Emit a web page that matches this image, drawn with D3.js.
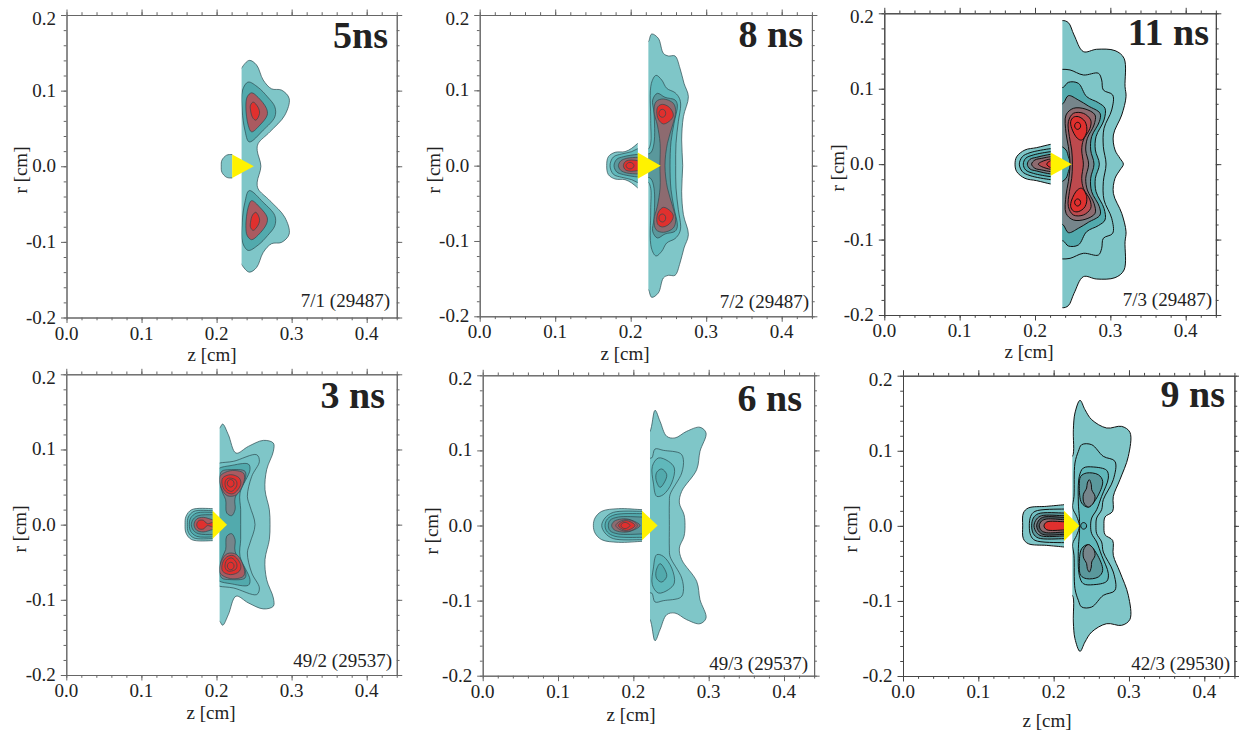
<!DOCTYPE html>
<html>
<head>
<meta charset="utf-8">
<script src="https://cdn.jsdelivr.net/npm/d3@7"></script>
<style>
  body { margin: 0; background: #fff; }
  text { font-family: "Liberation Serif", serif; fill: #222; }
</style>
</head>
<body>
<script>
// tick values, shared by all six panels
const zMajor = [0, 0.1, 0.2, 0.3, 0.4];
const zLabels = ["0.0", "0.1", "0.2", "0.3", "0.4"];
const rMajor = [-0.2, -0.1, 0, 0.1, 0.2];
const rLabels = ["-0.2", "-0.1", "0.0", "0.1", "0.2"];
const zMinor = d3.range(0, 0.441, 0.02);
const rMinor = d3.range(-0.2, 0.201, 0.02);

const titles = ["5ns", "8 ns", "11 ns", "3 ns", "6 ns", "9 ns"];
const notes = ["7/1 (29487)", "7/2 (29487)", "7/3 (29487)", "49/2 (29537)", "49/3 (29537)", "42/3 (29530)"];

// [left wall z, right wall z, triangle half height r, triangle tip z]
const geometry = [
  [0.2208, 0.2333, 0.0155, 0.2497],
  [0.2093, 0.2234, 0.0173, 0.2397],
  [0.2208, 0.2363, 0.0153, 0.2487],
  [0.1949, 0.2042, 0.0186, 0.2140],
  [0.2115, 0.2221, 0.0198, 0.2323],
  [0.2137, 0.2248, 0.0202, 0.2341]
];

// contours: [colour class, kind, [z, r] points]
// kind h = upper half that gets mirrored over r=0, t = off axis loop with a mirrored twin
const right5 = [
  [0, "h", [[.228,0],[.228,.12],[.2333,.13],[.2435,.14],[.2532,.134],[.2621,.114],[.2732,.1024],[.2865,.1007],[.2967,.0896],[.2909,.0675],[.271,.0455],[.2554,.03],[.2541,.021],[.259,0]]],
  [2, "t", [[.2421,.1113],[.2554,.1042],[.2678,.0918],[.2776,.0786],[.2776,.0653],[.2621,.0477],[.2435,.0322],[.2377,.0477],[.2341,.0742],[.2346,.1007]]],
  [6, "t", [[.2466,.0971],[.2554,.091],[.2665,.0764],[.2674,.0675],[.2576,.0543],[.2466,.0455],[.2421,.0543],[.239,.0786],[.2408,.0918]]],
  [8, "t", [[.2488,.0848],[.2554,.0777],[.2572,.0698],[.2523,.0609],[.2479,.0645],[.2452,.0742],[.2452,.0808]]]
];
const left5 = [
  [0, "h", [[.2062,0],[.2071,.008],[.2133,.0146],[.2208,.0155],[.226,.015],[.226,0]]]
];

const right8 = [
  [0, "h", [[.218,0],[.218,.16],[.2234,.1646],[.2278,.1748],[.2366,.169],[.2433,.1491],[.2499,.1456],[.2587,.1456],[.2653,.1292],[.2706,.1093],[.2764,.0916],[.2698,.065],[.2675,.0341],[.2689,0]]],
  [1, "h", [[.2596,0],[.26,.0296],[.2631,.0584],[.2662,.0805],[.2645,.0894],[.2587,.0969],[.2477,.1027],[.2411,.1137],[.2336,.1199],[.2274,.1093],[.2265,.06],[.2265,.03],[.2234,.022],[.219,.02],[.219,0]]],
  [3, "h", [[.2521,0],[.2534,.0319],[.2574,.0562],[.2618,.0805],[.2587,.0872],[.2455,.0907],[.2353,.096],[.2291,.0872],[.2309,.07],[.2309,.03],[.2265,.017],[.219,.014],[.219,0]]],
  [5, "h", [[.2454,0],[.2486,.0296],[.2556,.054],[.2596,.0717],[.2565,.0827],[.2433,.0885],[.2336,.085],[.2309,.0717],[.2353,.054],[.2389,.0296],[.2387,0]]],
  [8, "t", [[.2419,.0814],[.2512,.0774],[.2565,.0673],[.253,.0606],[.2433,.0553],[.2367,.0615],[.2345,.0717],[.2362,.0783]]],
  [8, "t", [[.2419,.0748],[.2451,.0733],[.2464,.0695],[.2451,.0657],[.2419,.0642],[.2387,.0657],[.2374,.0695],[.2387,.0733]]]
];
const left8 = [
  [0, "h", [[.1682,0],[.1704,.0119],[.1793,.0177],[.1925,.0186],[.2013,.023],[.2093,.0296],[.2124,.032],[.2124,0]]],
  [1, "h", [[.1726,0],[.1771,.0115],[.1881,.0155],[.2013,.0186],[.2093,.0225],[.214,.023],[.214,0]]],
  [3, "h", [[.1779,0],[.1815,.0084],[.1903,.0119],[.2093,.015],[.214,.015],[.214,0]]],
  [5, "h", [[.1837,0],[.1868,.0062],[.1947,.0097],[.2093,.011],[.214,.011],[.214,0]]],
  [8, "h", [[.1903,0],[.1934,.0058],[.2013,.0075],[.2093,.0066],[.214,.0066],[.214,0]]],
  [8, "h", [[.1938,0],[.1955,.0031],[.1991,.0044],[.2027,.0031],[.2044,0]]]
];

const right11 = [
  [0, "h", [[.229,0],[.229,.185],[.2363,.1903],[.2443,.1876],[.2518,.1713],[.2642,.1492],[.2819,.1523],[.3062,.1505],[.3182,.1403],[.3195,.1028],[.3208,.0895],[.3151,.0652],[.304,.0387],[.3062,.0188],[.3128,.0077],[.3173,0]]],
  [0, "h", [[.2943,0],[.2907,.0232],[.2916,.0475],[.3018,.0718],[.3031,.0917],[.2907,.0983],[.2885,.1116],[.2841,.1205],[.2642,.1182],[.2465,.1249],[.2363,.1257],[.229,.125],[.229,0]]],
  [2, "h", [[.2854,0],[.2801,.0188],[.281,.0365],[.2916,.0586],[.2929,.074],[.2841,.0815],[.2686,.0895],[.2575,.1072],[.2443,.1085],[.2376,.1019],[.229,.1],[.229,0]]],
  [4, "h", [[.2783,0],[.2739,.0188],[.2752,.0365],[.2854,.0564],[.2863,.0674],[.2708,.0771],[.2575,.0851],[.2443,.0908],[.2376,.0807],[.229,.075],[.229,.03],[.2412,.0188],[.2443,.0099],[.247,0]]],
  [5, "h", [[.2712,0],[.2673,.0188],[.2695,.0343],[.2783,.0519],[.2797,.0652],[.2664,.0732],[.2509,.074],[.2412,.0652],[.2412,.0409],[.2443,.0232],[.2465,0]]],
  [7, "h", [[.2642,0],[.262,.0188],[.2642,.032],[.273,.0475],[.2739,.0586],[.2642,.0674],[.2509,.0674],[.2443,.0564],[.2456,.0365],[.2487,.0188],[.2496,0]]],
  [8, "t", [[.2575,.063],[.2664,.0564],[.2686,.0431],[.262,.032],[.2562,.0343],[.2487,.0475],[.2474,.0564],[.2509,.0621]]],
  [8, "t", [[.2566,.0555],[.2594,.0541],[.2606,.0508],[.2594,.0475],[.2566,.0461],[.2538,.0475],[.2526,.0508],[.2538,.0541]]]
];
const left11 = [
  [0, "h", [[.1735,0],[.1757,.0099],[.1867,.0188],[.2022,.0219],[.2208,.0263],[.226,.027],[.226,0]]],
  [1, "h", [[.1792,0],[.1832,.0099],[.1934,.0152],[.2208,.0206],[.226,.021],[.226,0]]],
  [2, "h", [[.1845,0],[.1876,.0077],[.1978,.0122],[.2208,.0166],[.226,.017],[.226,0]]],
  [4, "h", [[.1898,0],[.1934,.0064],[.2022,.0091],[.2208,.013],[.226,.013],[.226,0]]],
  [5, "h", [[.1955,0],[.1999,.0055],[.2089,.0077],[.2208,.0099],[.226,.01],[.226,0]]],
  [7, "h", [[.2044,0],[.2089,.0033],[.2208,.0069],[.226,.007],[.226,0]]],
  [8, "h", [[.2155,0],[.2208,.0046],[.226,.005],[.226,0]]]
];

const right3 = [
  [0, "h", [[.198,0],[.198,.125],[.2042,.1285],[.2082,.1338],[.2158,.1196],[.226,.0952],[.2424,.1041],[.2624,.1121],[.2757,.1085],[.2757,.0975],[.2668,.0731],[.2646,.0465],[.2704,.0199],[.2713,0]]],
  [10, "h", [[.2513,0],[.2446,.0244],[.2411,.0377],[.2469,.0642],[.2571,.0842],[.2535,.093],[.2224,.0842],[.2042,.082],[.198,.08],[.198,0]]],
  [2, "h", [[.2322,0],[.2322,.02],[.2313,.0421],[.2446,.0731],[.2424,.0806],[.218,.0784],[.2042,.0753],[.198,.07],[.198,0]]],
  [4, "t", [[.218,.0731],[.238,.0709],[.238,.0598],[.2247,.0354],[.2247,.0199],[.2202,.012],[.2136,.0155],[.2122,.0332],[.2082,.0421],[.2038,.0598],[.2069,.0709]]],
  [6, "t", [[.2189,.0718],[.2358,.0687],[.2371,.0598],[.2269,.0399],[.2144,.0385],[.2065,.0487],[.2047,.0642]]],
  [8, "t", [[.2189,.0665],[.2304,.062],[.2322,.0532],[.2224,.0412],[.2136,.043],[.2078,.0518],[.2082,.062]]],
  [8, "t", [[.218,.062],[.226,.0589],[.2269,.0518],[.2202,.0443],[.2136,.0474],[.2113,.0554],[.2136,.0607]]],
  [8, "t", [[.2189,.06],[.2221,.0585],[.2234,.055],[.2221,.0515],[.2189,.05],[.2157,.0515],[.2144,.055],[.2157,.0585]]]
];
const left3 = [
  [0, "h", [[.1581,0],[.1594,.0111],[.1669,.0199],[.1949,.0213],[.2,.021],[.2,0]]],
  [1, "h", [[.1612,0],[.1625,.0102],[.17,.0177],[.1949,.0186],[.2,.0186],[.2,0]]],
  [2, "h", [[.1638,0],[.1656,.0089],[.1736,.0155],[.1949,.0164],[.2,.0164],[.2,0]]],
  [3, "h", [[.1665,0],[.1692,.0075],[.1758,.012],[.1949,.0133],[.2,.0133],[.2,0]]],
  [6, "h", [[.17,0],[.1736,.0075],[.1825,.0097],[.1949,.0066],[.2,.0066],[.2,0]]],
  [8, "h", [[.1736,0],[.1763,.0053],[.1825,.0058],[.1878,.0013],[.1949,.0031],[.2,.0031],[.2,0]]]
];

const right6 = [
  [0, "h", [[.216,0],[.216,.12],[.2221,.1254],[.2288,.1534],[.2354,.1388],[.2443,.1188],[.2553,.1166],[.2708,.1254],[.2885,.1308],[.2965,.1232],[.2885,.0988],[.2841,.0744],[.2642,.0455],[.2611,.03],[.2673,.0144],[.2686,0]]],
  [10, "h", [[.2478,0],[.2478,.03],[.2487,.0411],[.2642,.0699],[.2664,.0877],[.2628,.0957],[.2398,.1001],[.2288,.1019],[.2243,.0899],[.216,.09],[.216,0]]],
  [1, "t", [[.2332,.0899],[.2465,.0855],[.2544,.0766],[.2509,.0566],[.2398,.0411],[.231,.0389],[.2266,.0566],[.2252,.0788]]],
  [2, "t", [[.2376,.0753],[.2443,.0677],[.2407,.0566],[.2354,.0508],[.2301,.0611],[.231,.0708]]]
];
const left6 = [
  [0, "h", [[.1469,0],[.1491,.01],[.158,.0189],[.1801,.0224],[.2115,.0211],[.217,.021],[.217,0]]],
  [1, "h", [[.158,0],[.1624,.01],[.1735,.0175],[.2115,.0189],[.217,.0189],[.217,0]]],
  [2, "h", [[.1624,0],[.1655,.0087],[.1757,.0144],[.2115,.0158],[.217,.0158],[.217,0]]],
  [3, "h", [[.1668,0],[.169,.0069],[.1801,.0113],[.2115,.0113],[.217,.0113],[.217,0]]],
  [5, "h", [[.1712,0],[.1743,.0055],[.1845,.0087],[.1956,.0078],[.2089,0]]],
  [6, "h", [[.1766,0],[.1823,.0055],[.1912,.0078],[.2,.0055],[.2053,0]]],
  [8, "h", [[.1801,0],[.189,.0064],[.1978,.0042],[.2022,0]]],
  [8, "h", [[.1836,0],[.1855,.003],[.189,.0042],[.1925,.003],[.1956,0]]]
];

const right9 = [
  [0, "h", [[.218,0],[.218,.09],[.2248,.0925],[.2261,.1281],[.2283,.1503],[.235,.1672],[.2416,.1547],[.2505,.1414],[.2704,.1303],[.2903,.1325],[.3013,.1245],[.2991,.0925],[.288,.0615],[.2792,.0393],[.2783,.0193],[.2682,.0118],[.2668,0]]],
  [10, "h", [[.2562,0],[.2571,.0104],[.2637,.0215],[.2659,.0349],[.2792,.0615],[.2814,.0859],[.2659,.0926],[.2505,.1081],[.2372,.1081],[.2328,.0992],[.2283,.0837],[.227,.0393],[.2252,.0238],[.2305,.0127],[.2341,0]]],
  [1, "h", [[.2491,0],[.2505,.0104],[.2571,.0215],[.2637,.0393],[.2726,.0637],[.2704,.0739],[.2527,.0784],[.2394,.077],[.2341,.066],[.2328,.0304],[.2341,.012],[.2345,0]]],
  [2, "h", [[.2359,0],[.2371,.0031],[.2398,.0044],[.2426,.0031],[.2438,0]]],
  [3, "t", [[.2438,.0704],[.2593,.0681],[.2651,.0593],[.2571,.0371],[.246,.025],[.2372,.0304],[.2341,.0526],[.2359,.0659]]],
  [4, "t", [[.2474,.0615],[.25,.0548],[.2505,.0482],[.2549,.0393],[.2527,.0304],[.246,.025],[.2403,.0304],[.2394,.0415],[.2438,.0504],[.2447,.057]]]
];
const left9 = [
  [0, "h", [[.1589,0],[.1598,.0171],[.1664,.0238],[.1907,.026],[.2137,.0282],[.219,.029],[.219,0]]],
  [10, "h", [[.1677,0],[.1695,.0127],[.1752,.0193],[.2137,.0224],[.219,.0224],[.219,0]]],
  [3, "h", [[.1708,0],[.173,.0104],[.1797,.0162],[.2137,.0171],[.219,.0171],[.219,0]]],
  [4, "h", [[.1739,0],[.1774,.0091],[.1841,.0135],[.2137,.0135],[.219,.0135],[.219,0]]],
  [9, "h", [[.1774,0],[.1809,.0082],[.1872,.0118],[.2137,.0113],[.219,.0113],[.219,0]]],
  [5, "h", [[.1809,0],[.184,.0064],[.1907,.0091],[.2137,.0082],[.219,.0082],[.219,0]]],
  [8, "h", [[.1872,0],[.1907,.0051],[.2137,.0055],[.219,.0055],[.219,0]]]
];

const leftSets = [left5, left8, left11, left3, left6, left9];
const rightSets = [right5, right8, right11, right3, right6, right9];

const colourClasses = ["#7fc6c8", "#60b8bb", "#52aaad", "#5a989c", "#76858b", "#8d6b70", "#aa5a60", "#bd4a4e", "#e0302e", "#4f5d62", "#72c1c4"];

// where each panel sits on the page
const frames = [
  { x0: 66.5,  x4: 366.7,  top: 15,    bottom: 317.5, titleX: 388,  titleY: 48,  noteX: 390,  noteY: 307, zX: 212,  zY: 361, rX: 27,  rY: 170, line: "#666", contour: "#2c4a50", weight: 0.7 },
  { x0: 479.7, x4: 781.7,  top: 15,    bottom: 316.3, titleX: 803,  titleY: 47,  noteX: 809,  noteY: 308, zX: 625,  zY: 360, rX: 440, rY: 170, line: "#666", contour: "#2c4a50", weight: 0.7 },
  { x0: 884.3, x4: 1185.7, top: 13.3,  bottom: 315,   titleX: 1209, titleY: 45,  noteX: 1212, noteY: 306, zX: 1029, zY: 358, rX: 844, rY: 168, line: "#444", contour: "#111", weight: 1 },
  { x0: 66.3,  x4: 366.7,  top: 374.3, bottom: 675,   titleX: 385,  titleY: 408, noteX: 392,  noteY: 667, zX: 211,  zY: 719, rX: 26,  rY: 529, line: "#666", contour: "#2c4a50", weight: 0.7 },
  { x0: 482.7, x4: 784,    top: 375.3, bottom: 675.7, titleX: 802,  titleY: 411, noteX: 808,  noteY: 670, zX: 631,  zY: 721, rX: 438, rY: 531, line: "#666", contour: "#2c4a50", weight: 0.7 },
  { x0: 903,   x4: 1204.3, top: 375.7, bottom: 676,   titleX: 1225, titleY: 407, noteX: 1230, noteY: 670, zX: 1047, zY: 727, rX: 857, rY: 529, line: "#444", contour: "#111", weight: 1 }
];

const svg = d3.select("body").append("svg")
  .attr("width", 1239)
  .attr("height", 733);

frames.forEach((f, i) => {
  const xScale = d3.scaleLinear().domain([0, 0.4]).range([f.x0, f.x4]);
  const yScale = d3.scaleLinear().domain([-0.2, 0.2]).range([f.bottom, f.top]);
  const [leftWall, rightWall, triR, triTip] = geometry[i];
  const xEnd = xScale(0.44);

  const g = svg.append("g");

  // clip both plasma parts at the walls
  const clip = (id, a, b) => svg.append("clipPath").attr("id", id).append("rect")
    .attr("x", a).attr("y", f.top)
    .attr("width", b - a).attr("height", f.bottom - f.top);
  clip("clipL" + i, xScale(0), xScale(leftWall));
  clip("clipR" + i, xScale(rightWall), xEnd);

  const line = d3.line()
    .x(d => xScale(d[0]))
    .y(d => yScale(d[1]))
    .curve(d3.curveCatmullRomClosed.alpha(0.5));

  const drawSet = (set, clipId) => {
    const part = g.append("g").attr("clip-path", "url(#" + clipId + ")");
    set.forEach(([cls, kind, pts]) => {
      const flipped = pts.map(p => [p[0], -p[1]]);
      const shapes = kind === "h"
        ? [pts.concat(flipped.slice(1, -1).reverse())]
        : [pts, flipped];
      shapes.forEach(shape => {
        part.append("path")
          .attr("d", line(shape))
          .attr("fill", colourClasses[cls])
          .attr("stroke", f.contour)
          .attr("stroke-width", f.weight);
      });
    });
  };
  drawSet(leftSets[i], "clipL" + i);
  drawSet(rightSets[i], "clipR" + i);

  // yellow target triangle
  g.append("path")
    .attr("d", d3.line().x(d => xScale(d[0])).y(d => yScale(d[1]))([[leftWall, triR], [triTip, 0], [leftWall, -triR]]) + "Z")
    .attr("fill", "#fff200");

  // axes, all four sides with outward ticks
  const xAxisScale = xScale.copy().domain([0, 0.44]).range([f.x0, xEnd]);
  const styleAxis = sel => {
    sel.selectAll("line").attr("stroke", f.line);
    sel.selectAll("path").attr("stroke", f.line);
  };
  const addAxis = (axis, dx, dy) => g.append("g")
    .attr("transform", "translate(" + dx + "," + dy + ")")
    .call(axis)
    .call(styleAxis);

  [[d3.axisBottom, f.bottom], [d3.axisTop, f.top]].forEach(([maker, pos]) => {
    addAxis(maker(xAxisScale).tickValues(zMinor).tickSize(2.8).tickSizeOuter(0).tickFormat(""), 0, pos);
    addAxis(maker(xAxisScale).tickValues(zMajor).tickSize(5.5).tickSizeOuter(0).tickFormat(""), 0, pos);
  });
  [[d3.axisLeft, f.x0], [d3.axisRight, xEnd]].forEach(([maker, pos]) => {
    addAxis(maker(yScale).tickValues(rMinor).tickSize(2.8).tickSizeOuter(0).tickFormat(""), pos, 0);
    addAxis(maker(yScale).tickValues(rMajor).tickSize(5.5).tickSizeOuter(0).tickFormat(""), pos, 0);
  });

  // tick labels
  g.selectAll(".zl").data(zMajor).enter().append("text")
    .attr("x", d => xScale(d))
    .attr("y", f.bottom + 22)
    .attr("text-anchor", "middle")
    .attr("font-size", 19)
    .text((d, j) => zLabels[j]);
  g.selectAll(".rl").data(rMajor).enter().append("text")
    .attr("x", f.x0 - 10.5)
    .attr("y", d => yScale(d) + (d === 0.2 ? 10 : 6))
    .attr("text-anchor", "end")
    .attr("font-size", 19)
    .text((d, j) => rLabels[j]);

  g.append("text").attr("x", f.zX).attr("y", f.zY)
    .attr("text-anchor", "middle").attr("font-size", 19).text("z [cm]");
  g.append("text")
    .attr("transform", "translate(" + f.rX + "," + f.rY + ") rotate(-90)")
    .attr("text-anchor", "middle").attr("font-size", 19).text("r [cm]");

  g.append("text").attr("x", f.titleX).attr("y", f.titleY)
    .attr("text-anchor", "end").attr("font-size", 38).attr("font-weight", "bold").text(titles[i]);
  g.append("text").attr("x", f.noteX).attr("y", f.noteY)
    .attr("text-anchor", "end").attr("font-size", 19).text(notes[i]);
});
</script>
</body>
</html>
